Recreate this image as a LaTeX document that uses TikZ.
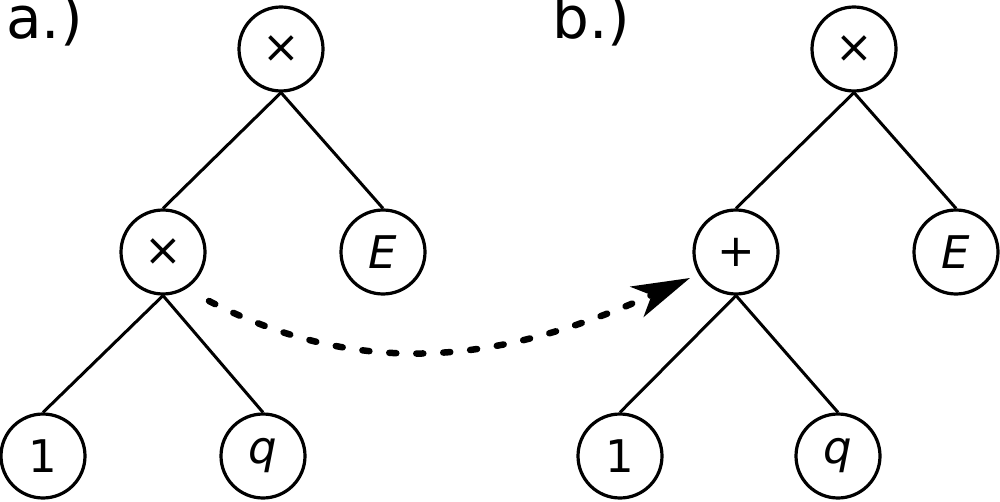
\documentclass[tikz,border=0pt]{standalone}
\usepackage{fontspec}
\setmainfont{DejaVu Sans}
\usetikzlibrary{arrows.meta}
\begin{document}
\begin{tikzpicture}[x=1pt,y=-1pt,
  tnode/.style={circle,draw,line width=3.2pt,minimum size=84pt,inner sep=0pt,font=\fontsize{45}{45}\selectfont},
  edge/.style={line width=3pt},
  lbl/.style={anchor=north west,inner sep=0pt,font=\fontsize{58}{58}\selectfont}]
\useasboundingbox (0,0) rectangle (1000,502);
\node[lbl] (la) at (6,-6) {a.)};
\node[lbl] (lb) at (552,-6) {b.)};
% tree a
\node[tnode] (ar) at (281,49) {×};
\node[tnode] (am) at (163,252) {×};
\node[tnode] (ae) at (383,252) {\textit{E}};
\node[tnode] (a1) at (43,456) {1};
\node[tnode] (aq) at (263,456) {\textit{q}};
% tree b
\node[tnode] (br) at (854,49) {×};
\node[tnode] (bm) at (736,252) {+};
\node[tnode] (be) at (956,252) {\textit{E}};
\node[tnode] (b1) at (620,456) {1};
\node[tnode] (bq) at (838,456) {\textit{q}};
\foreach \p/\c in {ar/am,ar/ae,am/a1,am/aq,br/bm,br/be,bm/b1,bm/bq}
  \draw[edge] (\p.south) -- (\c.north);
\coordinate (s) at (209,301);
\coordinate (t) at (690,278);
\draw[line width=6.5pt,line cap=round,dash pattern=on 7pt off 20pt,-{Stealth[length=58pt,width=33pt,inset=16pt,line cap=butt]}]
  (s) .. controls (375,387) and (518,355) .. (t);
\end{tikzpicture}
\end{document}
